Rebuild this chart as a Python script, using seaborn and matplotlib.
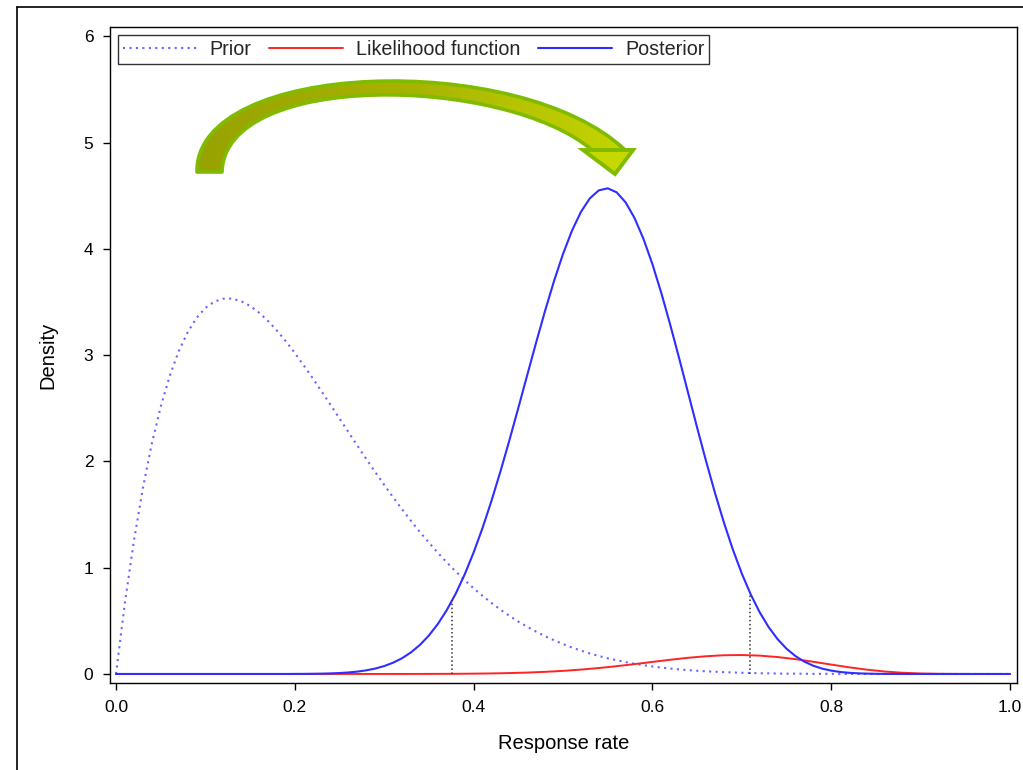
import numpy as np
import seaborn as sns
import matplotlib.pyplot as plt
from matplotlib.path import Path
from matplotlib.patches import PathPatch, Polygon
from matplotlib.lines import Line2D
from matplotlib.colors import LinearSegmentedColormap

# response rate grid (read at 0.01 steps)
response_rate = [
    0.00, 0.01, 0.02, 0.03, 0.04, 0.05, 0.06, 0.07, 0.08, 0.09,
    0.10, 0.11, 0.12, 0.13, 0.14, 0.15, 0.16, 0.17, 0.18, 0.19,
    0.20, 0.21, 0.22, 0.23, 0.24, 0.25, 0.26, 0.27, 0.28, 0.29,
    0.30, 0.31, 0.32, 0.33, 0.34, 0.35, 0.36, 0.37, 0.38, 0.39,
    0.40, 0.41, 0.42, 0.43, 0.44, 0.45, 0.46, 0.47, 0.48, 0.49,
    0.50, 0.51, 0.52, 0.53, 0.54, 0.55, 0.56, 0.57, 0.58, 0.59,
    0.60, 0.61, 0.62, 0.63, 0.64, 0.65, 0.66, 0.67, 0.68, 0.69,
    0.70, 0.71, 0.72, 0.73, 0.74, 0.75, 0.76, 0.77, 0.78, 0.79,
    0.80, 0.81, 0.82, 0.83, 0.84, 0.85, 0.86, 0.87, 0.88, 0.89,
    0.90, 0.91, 0.92, 0.93, 0.94, 0.95, 0.96, 0.97, 0.98, 0.99,
    1.00,
]

prior_density = [
    0.000, 0.671, 1.250, 1.745, 2.164, 2.514, 2.802, 3.033, 3.213, 3.349,
    3.444, 3.503, 3.531, 3.532, 3.507, 3.463, 3.400, 3.322, 3.231, 3.130,
    3.020, 2.903, 2.783, 2.658, 2.532, 2.403, 2.275, 2.148, 2.022, 1.899,
    1.779, 1.662, 1.549, 1.440, 1.335, 1.236, 1.140, 1.050, 0.964, 0.883,
    0.806, 0.735, 0.668, 0.605, 0.547, 0.493, 0.444, 0.398, 0.355, 0.317,
    0.281, 0.249, 0.220, 0.193, 0.169, 0.148, 0.129, 0.112, 0.096, 0.083,
    0.071, 0.060, 0.051, 0.043, 0.036, 0.030, 0.025, 0.021, 0.017, 0.014,
    0.011, 0.009, 0.007, 0.006, 0.004, 0.003, 0.003, 0.002, 0.001, 0.001,
    0.001, 0.000, 0.000, 0.000, 0.000, 0.000, 0.000, 0.000, 0.000, 0.000,
    0.000, 0.000, 0.000, 0.000, 0.000, 0.000, 0.000, 0.000, 0.000, 0.000,
    0.000,
]

posterior_density = [
    0.0, 0.0, 0.0, 0.0, 0.0, 0.0, 0.0, 0.0, 0.0, 0.0,
    0.0, 0.0, 0.0, 0.0, 0.0, 0.0, 0.0, 0.0, 0.0, 0.0,
    0.0005, 0.0009, 0.0017, 0.0031, 0.0053, 0.0088, 0.0142, 0.0223, 0.0341, 0.0509,
    0.0743, 0.1061, 0.1484, 0.2035, 0.2738, 0.3619, 0.4703, 0.6010, 0.7560, 0.9363,
    1.1425, 1.3738, 1.6290, 1.9051, 2.1979, 2.5028, 2.8126, 3.1204, 3.4184, 3.6983,
    3.9515, 4.1699, 4.3466, 4.4749, 4.5498, 4.5694, 4.5316, 4.4374, 4.2899, 4.0938,
    3.8558, 3.5833, 3.2836, 2.9672, 2.6424, 2.3184, 2.0029, 1.7028, 1.4238, 1.1700,
    0.9442, 0.7477, 0.5802, 0.4409, 0.3276, 0.2377, 0.1681, 0.1157, 0.0773, 0.0500,
    0.0313, 0.0189, 0.0109, 0.0060, 0.0032, 0.0016, 0.0007, 0.0003, 0.0, 0.0,
    0.0, 0.0, 0.0, 0.0, 0.0, 0.0, 0.0, 0.0, 0.0, 0.0,
    0.0,
]

# likelihood read at 0.02 steps
likelihood_rate = response_rate[::2]
likelihood_value = [
    0.0, 0.0, 0.0, 0.0, 0.0, 0.0, 0.0, 0.0, 0.0, 0.0,
    0.0, 0.0, 0.0, 0.0, 0.0, 0.0001, 0.0002, 0.0004, 0.0009, 0.0016,
    0.0030, 0.0051, 0.0084, 0.0132, 0.0200, 0.0292, 0.0411, 0.0558, 0.0732, 0.0927,
    0.1133, 0.1337, 0.1522, 0.1669, 0.1761, 0.1782, 0.1725, 0.1592, 0.1393, 0.1148,
    0.0883, 0.0627, 0.0404, 0.0231, 0.0114, 0.0045, 0.0014, 0.0003, 0.0, 0.0,
    0.0,
]

# 95% interval of the posterior (dotted drop lines)
ci_bounds = [0.376, 0.709]
ci_heights = [0.70, 0.76]

x_ticks = [0.0, 0.2, 0.4, 0.6, 0.8, 1.0]
x_ticklabels = ['0.0', '0.2', '0.4', '0.6', '0.8', '1.0']
y_ticks = [0, 1, 2, 3, 4, 5, 6]

W, H = 1023, 770


def fig_xy(px, py):
    # pixel position in the picture -> figure fraction
    return (px / W, 1 - py / H)


sns.set_theme(style='ticks')
plt.rcParams['font.family'] = ['Liberation Sans', 'DejaVu Sans']

fig = plt.figure(figsize=(W / 100, H / 100), dpi=100)
ax = fig.add_axes([110 / W, 1 - 683 / H, (1017 - 110) / W, (683 - 27) / H])

sns.lineplot(x=response_rate, y=prior_density, ax=ax, color='#6666ff',
             lw=1.5, linestyle=(0, (1, 2.1)), label='Prior')
sns.lineplot(x=likelihood_rate, y=likelihood_value, ax=ax, color='#ff2424',
             lw=1.4, label='Likelihood function')
sns.lineplot(x=response_rate, y=posterior_density, ax=ax, color='#2e2eff',
             lw=1.5, label='Posterior')

ax.vlines(ci_bounds, 0, ci_heights, colors='#333333', linestyles='dotted', lw=1.1)

ax.set_xticks(x_ticks)
ax.set_xticklabels(x_ticklabels)
ax.set_yticks(y_ticks)
ax.tick_params(direction='out', length=5, width=1, color='black',
               labelsize=12.5, labelcolor='black', pad=7)
for s in ax.spines.values():
    s.set_color('black')
    s.set_linewidth(1.0)

ax.set_xlabel('Response rate', fontsize=14.5, labelpad=14, color='black')
ax.set_ylabel('Density', fontsize=14.5, labelpad=19, color='black')

leg = ax.legend(loc='upper left', ncol=3, frameon=True, fancybox=False,
                edgecolor='black', fontsize=14.2, handlelength=3.75,
                handletextpad=0.65, columnspacing=0.9, borderpad=0.25,
                borderaxespad=0.4)
leg.get_frame().set_linewidth(1.0)

# curved green arrow (prior -> posterior): tapered shaft with gradient fill
shaft = Path([fig_xy(197, 172), fig_xy(195, 60), fig_xy(520, 50), fig_xy(625, 150),
              fig_xy(592, 150), fig_xy(505, 76), fig_xy(225, 70), fig_xy(222, 172),
              fig_xy(197, 172)],
             [Path.MOVETO, Path.CURVE4, Path.CURVE4, Path.CURVE4,
              Path.LINETO, Path.CURVE4, Path.CURVE4, Path.CURVE4,
              Path.CLOSEPOLY])
shaft_patch = PathPatch(shaft, transform=fig.transFigure, facecolor='none',
                        edgecolor='#80bb00', lw=2.6, joinstyle='round', zorder=6)
green = LinearSegmentedColormap.from_list('arrow', ['#98a200', '#a8b400', '#c6d700'])
x0, y0 = fig_xy(190, 180)
x1, y1 = fig_xy(640, 40)
grad = ax.imshow([np.linspace(0, 1, 256)], cmap=green, aspect='auto',
                 extent=[x0, x1, y0, y1], transform=fig.transFigure,
                 zorder=5, interpolation='bilinear')
grad.set_clip_path(shaft_patch)
fig.add_artist(shaft_patch)
head = Polygon([fig_xy(583, 150), fig_xy(633, 150), fig_xy(615, 174)],
               closed=True, transform=fig.transFigure, facecolor='#c6d800',
               edgecolor='#80bb00', lw=2.8, joinstyle='miter', zorder=7)
fig.add_artist(head)

ax.set_xlim(-0.0067, 1.0078)
ax.set_ylim(-0.085, 6.087)

# outer frame of the picture
fig.add_artist(Line2D([17 / W, 17 / W], [0, 1 - 7 / H], color='black', lw=1.2))
fig.add_artist(Line2D([17 / W, 1], [1 - 7 / H, 1 - 7 / H], color='black', lw=1.2))

fig.savefig('out.png', dpi=100)
